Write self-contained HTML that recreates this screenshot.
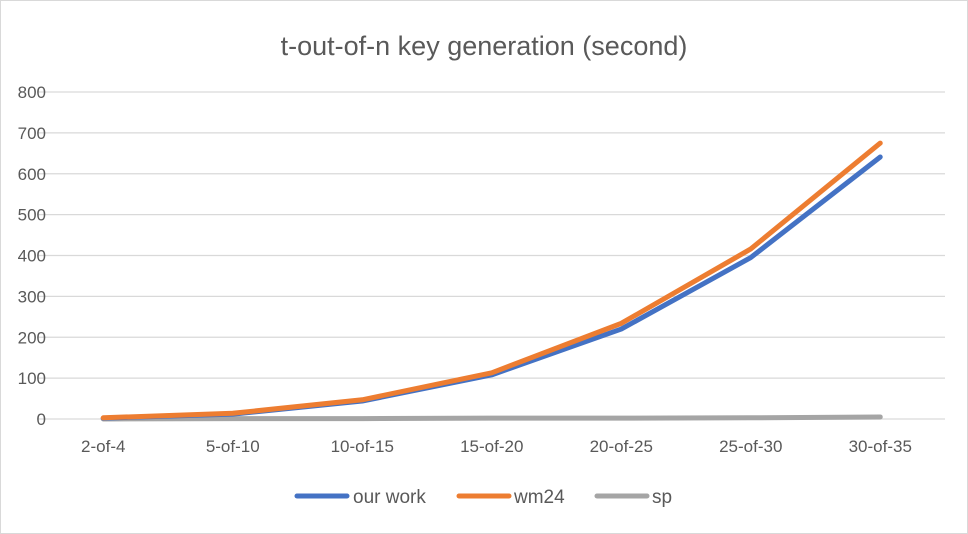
<!DOCTYPE html>
<html><head><meta charset="utf-8"><style>
body{margin:0;background:#fff;font-family:"Liberation Sans",sans-serif}
svg{display:block}
</style></head><body>
<svg id="chart" width="968" height="534">
<rect x="0.5" y="0.5" width="967" height="533" fill="#fff" stroke="#d9d9d9"/>
<text x="484" y="55" text-anchor="middle" font-size="27" fill="#595959">t-out-of-n key generation (second)</text>
<g id="grid"></g><g id="xlabels"></g><g id="series"></g>
<g>
<g><line x1="297" y1="496" x2="347" y2="496" stroke="#4472c4" stroke-width="5" stroke-linecap="round"/><text x="353" y="503" font-size="19" fill="#595959">our work</text></g>
<g><line x1="459" y1="496" x2="509" y2="496" stroke="#ed7d31" stroke-width="5" stroke-linecap="round"/><text x="514" y="503" font-size="19" fill="#595959">wm24</text></g>
<g><line x1="597" y1="496" x2="647" y2="496" stroke="#a5a5a5" stroke-width="5" stroke-linecap="round"/><text x="652" y="503" font-size="19" fill="#595959">sp</text></g>
</g>
</svg>
<script>
const categories=["2-of-4","5-of-10","10-of-15","15-of-20","20-of-25","25-of-30","30-of-35"];
const ourWork=[2,12,44,108,220,395,641];
const wm24=[3,14,47,113,234,416,675];
const sp=[0,1,1,2,2,3,5];
const yTicks=[0,100,200,300,400,500,600,700,800];
const NS="http://www.w3.org/2000/svg";
const x0=38.5,x1=945,y0=419,yTop=92;
const step=(x1-x0)/categories.length;
const xs=i=>x0+step*(i+0.5);
const ys=v=>y0-(y0-yTop)*v/800;
function mk(t,a,p){const e=document.createElementNS(NS,t);for(const k in a)e.setAttribute(k,a[k]);p.appendChild(e);return e;}
const grid=document.getElementById('grid');
yTicks.forEach(v=>{
 const l=mk('line',{x1:x0,x2:x1,y1:ys(v),y2:ys(v),stroke:'#d9d9d9','stroke-width':1.3},grid);
 
 
 const t=mk('text',{x:46,y:ys(v)+6,'text-anchor':'end','font-size':17,fill:'#595959'},grid);
 t.textContent=v;
 
 
});
const xl=document.getElementById('xlabels');
categories.forEach((c,i)=>{
 const t=mk('text',{x:xs(i),y:452,'text-anchor':'middle','font-size':17,fill:'#595959'},xl);
 t.textContent=c;
 
 
});
const sg=document.getElementById('series');
[[sp,'#a5a5a5','series-sp'],[ourWork,'#4472c4','series-our-work'],[wm24,'#ed7d31','series-wm24']].forEach(([d,col,n])=>{
 const p=mk('polyline',{points:d.map((v,i)=>xs(i)+','+ys(v)).join(' '),fill:'none',stroke:col,'stroke-width':5,'stroke-linecap':'round','stroke-linejoin':'round'},sg);
 
 
});
</script>
</body></html>
